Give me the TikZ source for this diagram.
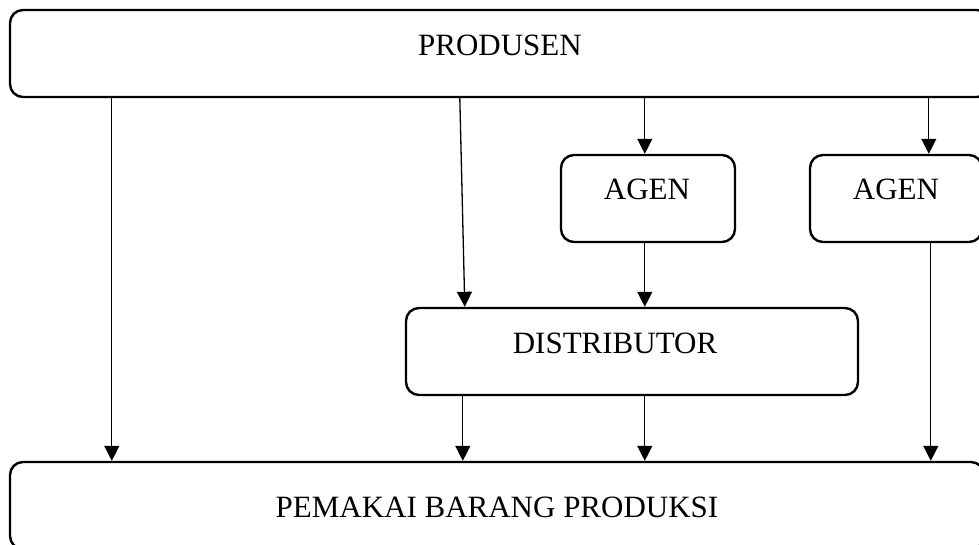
\documentclass[tikz,border=0pt]{standalone}
\usepackage{fontspec}
\setmainfont{Liberation Serif}
\usetikzlibrary{arrows.meta}

\tikzset{
  box/.style={draw, line width=2.4pt, rounded corners=13pt, minimum height=87pt, inner sep=0pt},
  lbl/.style={inner sep=0pt, font=\fontsize{31}{37}\selectfont},
  arr/.style={line width=1.3pt, -{Triangle[length=15pt,width=15pt]}}
}

\begin{document}
\begin{tikzpicture}[x=1pt, y=-1pt]
        \useasboundingbox (0,0) rectangle (979,544);
        \clip (0,0) rectangle (979,544);

        % Boxes
        \node[box, minimum width=980pt] (produsen) at (500,53.5) {};
        \node[box, minimum width=174pt] (agen1) at (648,198.5) {};
        \node[box, minimum width=172pt] (agen2) at (896,198.5) {};
        \node[box, minimum width=452pt] (distributor) at (632,351.5) {};
        \node[box, minimum width=974pt] (pemakai) at (497,505.5) {};

        % Texts
        \node[lbl] (produsenT) at (500,45) {PRODUSEN};
        \node[lbl] (agen1T) at (647,189) {AGEN};
        \node[lbl] (agen2T) at (896,189) {AGEN};
        \node[lbl] (distributorT) at (615,343) {DISTRIBUTOR};
        \node[lbl] (pemakaiT) at (497,507) {PEMAKAI BARANG PRODUKSI};

        % Produsen to the others
        \draw[arr] ([xshift=103pt]produsen.south west) -- ([xshift=103pt]pemakai.north west);
        \draw[arr] ([xshift=451pt]produsen.south west) -- ([xshift=60pt]distributor.north west);
        \draw[arr] ([xshift=636pt]produsen.south west) -- ([xshift=85pt]agen1.north west);
        \draw[arr] ([xshift=920pt]produsen.south west) -- ([xshift=120pt]agen2.north west);

        % Agen to distributor and pemakai
        \draw[arr] ([xshift=85pt]agen1.south west) -- ([xshift=240pt]distributor.north west);
        \draw[arr] ([xshift=122pt]agen2.south west) -- ([xshift=922pt]pemakai.north west);

        % Distributor to pemakai
        \draw[arr] ([xshift=58pt]distributor.south west) -- ([xshift=454pt]pemakai.north west);
        \draw[arr] ([xshift=240pt]distributor.south west) -- ([xshift=636pt]pemakai.north west);

      \end{tikzpicture}
\end{document}
